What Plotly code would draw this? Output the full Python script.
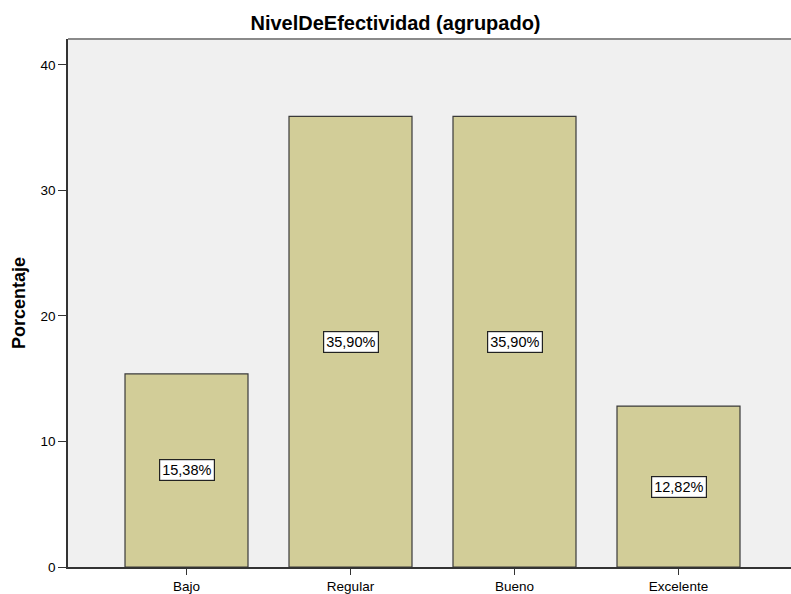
import plotly.graph_objects as go

categorias = ["Bajo", "Regular", "Bueno", "Excelente"]
porcentajes = [15.38, 35.90, 35.90, 12.82]
ticks_y = [0, 10, 20, 30, 40]

FUENTE = "Liberation Sans, Arial"

fig = go.Figure()
fig.add_trace(go.Bar(
    x=categorias, y=porcentajes, width=0.75,
    marker=dict(color="rgb(210,205,152)", line=dict(color="#3a3a3a", width=1.2)),
    hoverinfo="skip",
))

# Etiquetas de porcentaje centradas en cada barra
for cat, val in zip(categorias, porcentajes):
    fig.add_annotation(
        x=cat, y=val / 2, text=f"{val:.2f}".replace(".", ",") + "%",
        showarrow=False, bgcolor="white", bordercolor="#222", borderwidth=1.2,
        borderpad=2, font=dict(family=FUENTE, size=14.5, color="black"),
    )

# Borde superior gris del área del gráfico
fig.add_shape(type="line", xref="paper", yref="paper", x0=0, x1=1, y0=1, y1=1,
              line=dict(color="#8a8a8a", width=2))

fig.update_layout(
    width=791, height=594,
    margin=dict(l=68, r=0, t=39, b=25),
    paper_bgcolor="white", plot_bgcolor="#f0f0f0",
    showlegend=False,
    font=dict(family=FUENTE, size=13.5, color="black"),
    title=dict(text="<b>NivelDeEfectividad (agrupado)</b>", x=0.5, xanchor="center",
               y=0.962, yanchor="middle",
               font=dict(family=FUENTE, size=20, color="black")),
    xaxis=dict(range=[-0.7226, 3.686], showgrid=False, showline=True,
               linecolor="#333", linewidth=1.5, ticks="outside", ticklen=6,
               tickcolor="#333", tickfont=dict(size=13.5), fixedrange=True),
    yaxis=dict(range=[0, 42.06], tickvals=ticks_y, showgrid=False, showline=True,
               linecolor="#333", linewidth=1.5, ticks="outside", ticklen=8,
               tickcolor="#333", tickfont=dict(size=13.5), zeroline=False,
               title=dict(text="<b>Porcentaje</b>", font=dict(size=18), standoff=10)),
)

fig.write_html("out.html")
